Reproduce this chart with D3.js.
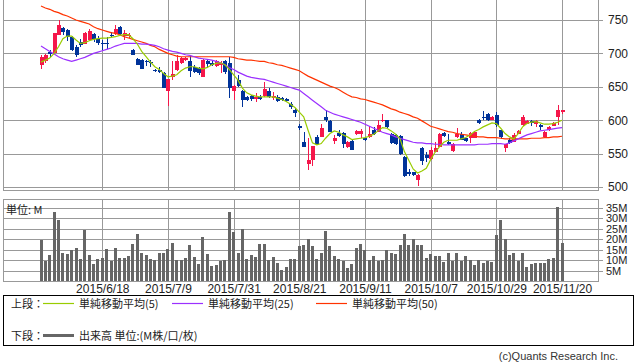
<!DOCTYPE html>
<html>
<head>
<meta charset="utf-8">
<script src="https://cdn.jsdelivr.net/npm/d3@7"></script>
<style>
  body { margin: 0; background: #fff; }
  svg { display: block; }
</style>
</head>
<body>
<div id="chart"></div>
<script>
// daily OHLC, index 0 = first trading day shown
const opens = [682,688,702,700,728,738,735,725,710,717, 715,720,729,722,716,716,728,730,740,726,
  726,705,692,690,688,687,675,675,671,643, 664,675,686,690,688,680,678,665,688,686,
  680,683,688,685,643,660,643,634,636,632, 635,635,644,633,635,633,632,624,615,592,
  568,535,540,575,576,605,599,568,581,581, 560,569,579,580,573,575,586,583,599,600,
  579,578,576,545,522,522,510,558,548,541, 553,561,581,568,554,575,580,573,573,574,
  600,605,609,601,608,585,558,571,568,580, 593,595,599,595,593,575,585,592,605,612];
const highs = [697,699,705,731,750,739,736,726,712,721, 732,736,731,726,720,725,732,742,741,735,
  731,706,693,691,690,690,676,680,672,662, 688,697,695,694,696,682,680,692,690,688,
  690,688,690,695,653,667,645,636,637,640, 637,657,648,642,637,634,633,627,619,594,
  583,573,562,578,595,615,600,578,585,582, 569,571,585,587,575,591,590,600,609,601,
  581,580,578,546,527,523,519,560,553,560, 567,581,582,580,566,588,582,574,582,584,
  602,614,611,607,612,586,565,573,581,585, 608,601,600,601,594,584,591,597,623,616];
const lows = [676,686,694,699,727,727,718,704,695,710, 714,719,717,713,705,706,724,728,728,720,
  723,697,682,676,681,680,672,671,648,621, 660,674,684,688,665,670,668,664,680,681,
  679,671,669,633,630,650,620,628,629,627, 630,634,633,630,627,628,627,617,605,586,
  560,525,531,563,575,598,582,565,575,559, 558,555,578,573,569,574,578,582,598,588,
  564,563,548,515,516,516,502,533,538,540, 552,560,575,563,552,574,570,567,566,573,
  594,600,599,600,590,572,553,565,567,579, 592,594,592,590,585,573,584,591,593,610];
const closes = [694,697,699,730,743,732,725,705,698,713, 731,733,721,716,714,714,726,737,729,730,
  728,698,683,677,686,685,673,672,649,661, 669,688,693,693,673,673,671,690,683,683,
  688,686,671,648,651,651,630,630,632,635, 632,646,635,636,629,630,629,620,610,589,
  561,541,561,564,589,601,583,573,576,565, 567,556,584,584,570,579,580,593,601,589,
  565,564,549,517,519,518,518,538,543,555, 559,580,576,565,565,580,571,569,581,583,
  595,603,600,605,593,575,564,566,578,584, 605,599,596,599,590,583,590,596,615,615];

// volume, millions
const volumes = [19.6,9.5,12.7,33.2,29.2,13.5,12.8,14.8,15.9,10.4, 24.4,12.4,8.0,10.4,11.1,15.3,9.6,15.9,11.1,11.1,
  12.0,17.6,22.4,13.5,12.4,10.4,10.1,13.5,13.5,15.3, 18.3,9.9,9.9,11.1,17.1,11.6,8.0,21.2,12.8,7.2,
  7.5,9.5,9.9,33.2,23.6,13.2,24.9,10.4,12.4,11.6, 17.9,17.6,9.9,11.6,8.4,5.1,6.7,10.7,10.4,16.7,
  17.1,20.3,16.7,10.4,13.2,23.9,16.7,11.9,10.4,9.5, 6.2,8.0,16.0,17.6,15.1,10.3,11.9,9.5,10.3,14.8,
  13.5,12.8,17.1,22.3,17.1,20.3,17.1,17.1,11.2,12.8, 11.9,11.9,9.2,13.6,9.5,13.2,9.5,11.9,9.9,7.5,
  10.3,8.4,9.5,9.2,21.9,29.2,20.3,12.4,13.6,9.5, 13.2,6.7,8.0,8.8,8.8,8.8,10.7,11.2,35.3,18.4];

// moving averages as drawn
const ma5 = [687,690,693,700,710,722,726,726,720,715, 716,719,721,722,723,723,724,725,727,728,
  728,722,714,703,695,687,680,676,670,665, 666,668,674,678,680,680,678,677,679,683,
  685,686,683,676,668,660,648,641,638,636, 635,635,635,635,633,631,628,624,619,612,
  605,585,566,563,565,573,580,584,582,578, 575,571,572,573,574,576,579,584,589,588,
  584,579,572,553,540,527,521,524,528,541, 552,560,567,570,570,570,572,574,578,583,
  586,590,593,596,595,588,580,575,572,580, 590,595,597,598,596,594,594,595,597,600];
const ma25 = [711,707,703,699,695,692,690,688,690,692, 694,697,700,702,704,706,708,711,713,715,
  715,715,715,714,714,713,712,710,707,705, 703,702,700,698,697,695,693,692,691,690,
  688,686,683,679,676,672,669,666,664,663, 662,661,659,657,655,653,651,649,647,645,
  640,635,630,625,620,615,612,609,607,605, 603,601,599,597,594,591,588,585,582,580,
  578,575,573,571,569,567,566,566,565,565, 564,564,563,563,563,563,563,563,563,563,
  564,564,564,565,565,565,564,566,569,572, 575,578,580,582,584,585,586,587,588,589];
const ma50 = [771,768,766,763,761,758,756,753,750,748, 746,744,740,737,735,733,731,730,728,725,
  723,721,719,717,715,712,710,706,703,700, 698,696,695,695,695,695,695,695,695,695,
  695,695,695,695,694,692,691,690,690,689, 688,688,686,685,683,682,680,678,676,674,
  670,666,663,660,657,654,651,649,646,642, 638,635,634,632,631,629,627,625,623,620,
  617,615,612,610,608,605,603,599,595,591, 589,587,585,583,582,580,579,578,577,576,
  575,575,574,574,574,573,572,572,572,572, 572,572,573,573,573,574,574,575,575,576];

const tickIdx = [14, 29, 44, 59, 74, 89, 104, 119];
const tickLabels = ["2015/6/18","2015/7/9","2015/7/31","2015/8/21","2015/9/11","2015/10/7","2015/10/29","2015/11/20"];
const priceTicks = [500, 550, 600, 650, 700, 750];
const volTicks = [5, 10, 15, 20, 25, 30, 35];

const W = 638, H = 362;
const left = 3, right = 598;
const priceTop = 0, priceBottom = 190;
const volTop = 199, volBottom = 281;

const UP = "#f5164a", DOWN = "#003399", GRID = "#999";
const FONT = "'Liberation Sans', Arial, sans-serif";
const JFONT = "'Noto Sans CJK JP', sans-serif";

const svg = d3.select("#chart").append("svg")
  .attr("width", W).attr("height", H)
  .style("font-family", FONT);

const x = d3.scaleLinear().domain([0, 119]).range([41, 562]);
const yP = d3.scaleLinear().domain([500, 750]).range([187, 20]);
const yV = d3.scaleLinear().domain([0, 35]).range([volBottom, 208]);

const px = (v) => Math.round(v) + 0.5;
const days = d3.range(closes.length);

// ---------- grid ----------
const grid = svg.append("g")
  .attr("stroke", GRID).attr("stroke-width", 1)
  .attr("shape-rendering", "crispEdges");

grid.selectAll(".vgp").data(tickIdx).enter().append("line")
  .attr("x1", (d) => px(x(d))).attr("x2", (d) => px(x(d)))
  .attr("y1", priceTop).attr("y2", priceBottom);

grid.selectAll(".vgv").data(tickIdx).enter().append("line")
  .attr("x1", (d) => px(x(d))).attr("x2", (d) => px(x(d)))
  .attr("y1", volTop).attr("y2", volBottom);

grid.selectAll(".hgp").data(priceTicks).enter().append("line")
  .attr("x1", left).attr("x2", right + 5)
  .attr("y1", (d) => px(yP(d))).attr("y2", (d) => px(yP(d)));

grid.selectAll(".hgv").data(volTicks).enter().append("line")
  .attr("x1", left).attr("x2", right + 5)
  .attr("y1", (d) => px(yV(d))).attr("y2", (d) => px(yV(d)));

// panel borders
grid.append("path")
  .attr("fill", "none")
  .attr("d", `M${left + 0.5},${priceTop} V${priceBottom + 0.5} H${right + 0.5} V${priceTop}`);
grid.append("rect")
  .attr("fill", "none")
  .attr("x", left + 0.5).attr("y", volTop + 0.5)
  .attr("width", right - left).attr("height", volBottom - volTop);

// ---------- candles ----------
const candles = svg.append("g").attr("shape-rendering", "crispEdges");
const cw = 3;

candles.selectAll(".wick").data(days).enter().append("line")
  .attr("x1", (i) => px(x(i))).attr("x2", (i) => px(x(i)))
  .attr("y1", (i) => Math.round(yP(highs[i])))
  .attr("y2", (i) => Math.round(yP(lows[i])))
  .attr("stroke", (i) => (closes[i] >= opens[i] ? UP : DOWN))
  .attr("stroke-width", 1);

candles.selectAll(".body").data(days).enter().append("rect")
  .attr("x", (i) => Math.round(x(i) - cw / 2))
  .attr("width", cw + 1)
  .attr("y", (i) => Math.round(yP(Math.max(opens[i], closes[i]))))
  .attr("height", (i) => Math.max(1, Math.round(Math.abs(yP(opens[i]) - yP(closes[i])))))
  .attr("fill", (i) => (closes[i] >= opens[i] ? UP : DOWN));

// ---------- moving averages ----------
const maLine = (arr) => d3.line().x((i) => x(i)).y((i) => yP(arr[i]))(days);
const maSeries = [
  { values: ma50, color: "#ff3300" },
  { values: ma25, color: "#9b30ff" },
  { values: ma5, color: "#99cc00" },
];
svg.append("g").selectAll("path").data(maSeries).enter().append("path")
  .attr("d", (d) => maLine(d.values))
  .attr("fill", "none")
  .attr("stroke", (d) => d.color)
  .attr("stroke-width", 1.2);

// ---------- volume ----------
svg.append("g").attr("shape-rendering", "crispEdges")
  .selectAll("rect").data(days).enter().append("rect")
  .attr("x", (i) => Math.round(x(i) - 1.5))
  .attr("width", 3)
  .attr("y", (i) => Math.round(yV(volumes[i])))
  .attr("height", (i) => volBottom - Math.round(yV(volumes[i])))
  .attr("fill", "#666");

svg.append("text")
  .attr("x", 6).attr("y", 214)
  .style("font-family", JFONT).style("font-size", "11px")
  .attr("fill", "#222")
  .text("単位: M");

// ---------- axes ----------
const styleAxis = (size) => (g) => {
  g.select(".domain").remove();
  g.selectAll(".tick line").attr("stroke", GRID).attr("shape-rendering", "crispEdges");
  g.selectAll(".tick text").attr("fill", "#222").style("font-size", size).style("font-family", FONT);
};

svg.append("g")
  .attr("transform", `translate(${right},0)`)
  .call(d3.axisRight(yP).tickValues(priceTicks).tickSize(0).tickPadding(10))
  .call(styleAxis("12px"));

svg.append("g")
  .attr("transform", `translate(${right},0)`)
  .call(d3.axisRight(yV).tickValues(volTicks).tickSize(0).tickPadding(8)
    .tickFormat((d) => d + "M"))
  .call(styleAxis("11px"));

svg.append("g")
  .attr("transform", `translate(0,${volBottom})`)
  .call(d3.axisBottom(x).tickValues(tickIdx).tickSize(0).tickPadding(3)
    .tickFormat((d, i) => tickLabels[i]))
  .call(styleAxis("12px"));

// ---------- legend ----------
const legend = svg.append("g").style("font-family", JFONT).style("font-size", "11px");
legend.append("rect")
  .attr("x", 3.5).attr("y", 295.5).attr("width", 630).attr("height", 50)
  .attr("fill", "none").attr("stroke", "#000");

const legendRows = [
  { label: "上段：", y: 304, items: [
    { x: 43, color: "#99cc00", w: 1.2, text: "単純移動平均(5)" },
    { x: 172, color: "#9b30ff", w: 1.2, text: "単純移動平均(25)" },
    { x: 316, color: "#ff3300", w: 1.2, text: "単純移動平均(50)" },
  ]},
  { label: "下段：", y: 336, items: [
    { x: 43, color: "#666", w: 3, text: "出来高 単位:(M株/口/枚)" },
  ]},
];

legendRows.forEach((row) => {
  legend.append("text")
    .attr("x", 11).attr("y", row.y).attr("dy", "0.35em")
    .attr("fill", "#222").text(row.label);
  row.items.forEach((it) => {
    legend.append("line")
      .attr("x1", it.x).attr("x2", it.x + 31)
      .attr("y1", row.y - 0.5).attr("y2", row.y - 0.5)
      .attr("stroke", it.color).attr("stroke-width", it.w);
    legend.append("text")
      .attr("x", it.x + 36).attr("y", row.y).attr("dy", "0.35em")
      .attr("fill", "#222").text(it.text);
  });
});

svg.append("text")
  .attr("x", 618).attr("y", 356).attr("dy", "0.35em")
  .attr("text-anchor", "end")
  .style("font-size", "11px")
  .attr("fill", "#333")
  .text("(c)Quants Research Inc.");
</script>
</body>
</html>
